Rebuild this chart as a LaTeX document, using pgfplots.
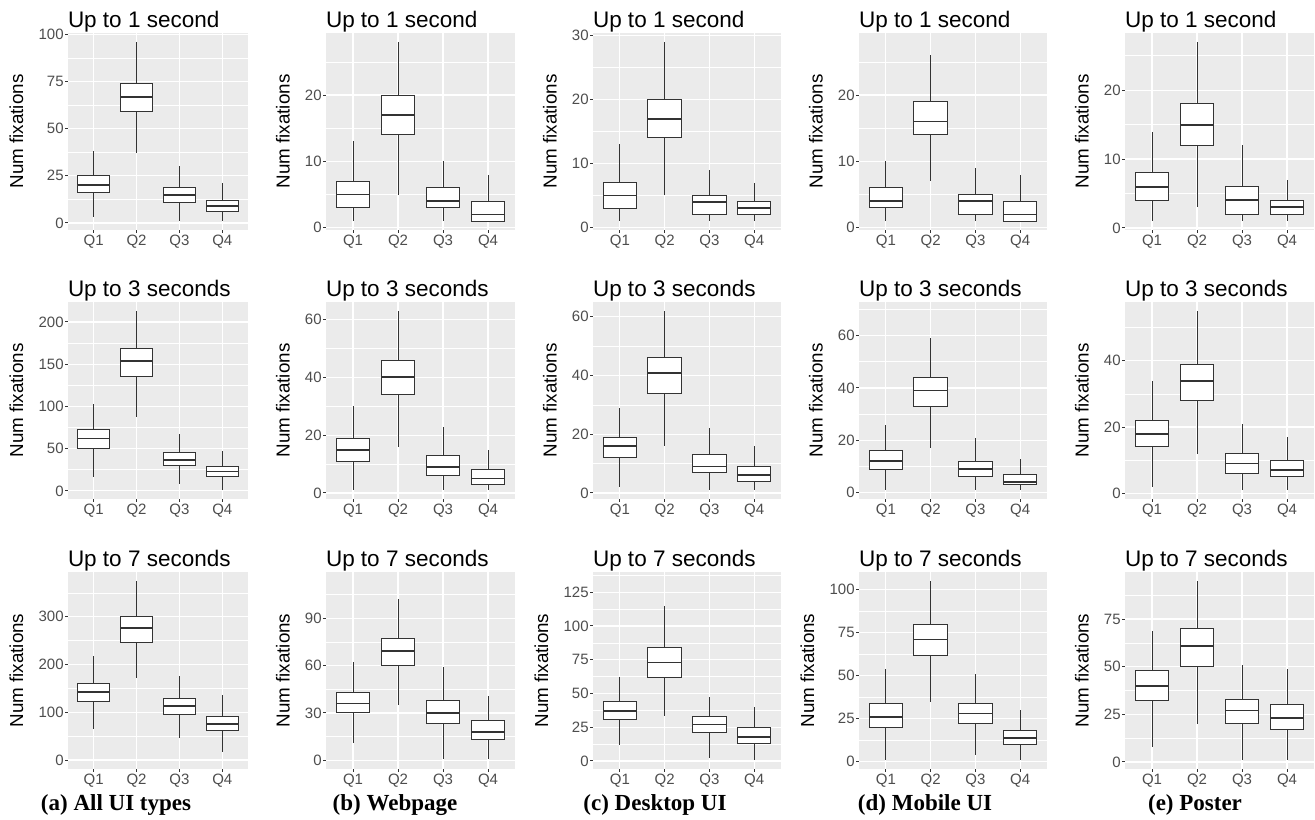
\documentclass[border=0pt]{standalone}
\usepackage{fontspec}
\setmainfont{Liberation Sans}
\newfontfamily\capfont{Liberation Serif}
\usepackage{pgfplots}
\pgfplotsset{compat=1.18}
\usepgfplotslibrary{statistics}
\definecolor{ggbg}{HTML}{EBEBEB}
\definecolor{gg30}{HTML}{4D4D4D}
\definecolor{gg20}{HTML}{333333}
\pgfplotsset{
  gg/.style={
    anchor=north west, scale only axis, height=98.5pt,
    xmin=0.4, xmax=4.6, xtick={1,2,3,4}, xticklabels={Q1,Q2,Q3,Q4},
    enlargelimits=false,
    axis lines*=left, axis line style={draw=none},
    axis background/.style={fill=ggbg},
    grid=both,
    major grid style={white, line width=0.6pt},
    minor grid style={white, line width=0.3pt},
    tick align=outside, major tick length=1.4pt, minor tick length=0pt,
    major tick style={gg20, line width=0.5pt},
    /pgf/number format/assume math mode=true,
    xticklabel style={font=\fontsize{7.5}{9}\selectfont, text=gg30, inner sep=1pt},
    yticklabel style={font=\fontsize{7.5}{9}\selectfont, text=gg30, inner xsep=0.6pt},
    ylabel={Num fixations},
    ylabel style={font=\fontsize{9.4}{11}\selectfont, inner sep=0pt, outer sep=0pt, at={(ticklabel cs:0.5,7pt)}, anchor=south},
    every axis title/.style={font=\fontsize{11.25}{13}\selectfont, inner sep=0pt, outer sep=0pt, at={(0,1)}, anchor=base west, yshift=2.9pt},
    boxplot/draw direction=y,
    boxplot/box extend=0.75,
    boxplot/whisker extend=0,
    boxplot/every median/.style={line width=0.9pt},
  },
  bx/.style={draw=gg20, fill=white, line width=0.5pt, solid, mark=none},
}
\newcommand{\bp}[6]{\addplot[bx, boxplot prepared={draw position=#1, lower whisker=#2, lower quartile=#3, median=#4, upper quartile=#5, upper whisker=#6}] coordinates {};}
\begin{document}
\begin{tikzpicture}
\useasboundingbox (0,0) rectangle (657.5pt,-409.5pt);
% ---------- Row 1: Up to 1 second ----------
\begin{axis}[gg, at={(34pt,-16.5pt)}, width=90pt, ymin=-3.75, ymax=100.75,
  ytick={0,25,50,75,100}, minor ytick={12.5,37.5,62.5,87.5}, title={Up to 1 second}]
\bp{1}{3}{16}{20}{25}{38}
\bp{2}{37}{59}{67}{74}{96}
\bp{3}{1}{11}{15}{19}{30}
\bp{4}{1}{6}{9}{12}{21}
\end{axis}
\begin{axis}[gg, at={(163pt,-16.5pt)}, width=94.5pt, ymin=-0.35, ymax=29.35,
  ytick={0,10,20}, minor ytick={5,15,25}, title={Up to 1 second}]
\bp{1}{1}{3}{5}{7}{13}
\bp{2}{5}{14}{17}{20}{28}
\bp{3}{1}{3}{4}{6}{10}
\bp{4}{1}{1}{2}{4}{8}
\end{axis}
\begin{axis}[gg, at={(296.5pt,-16.5pt)}, width=94pt, ymin=-0.4, ymax=30.4,
  ytick={0,10,20,30}, minor ytick={5,15,25}, title={Up to 1 second}]
\bp{1}{1}{3}{5}{7}{13}
\bp{2}{5}{14}{17}{20}{29}
\bp{3}{1}{2}{4}{5}{9}
\bp{4}{1}{2}{3}{4}{7}
\end{axis}
\begin{axis}[gg, at={(429.5pt,-16.5pt)}, width=94pt, ymin=-0.35, ymax=29.35,
  ytick={0,10,20}, minor ytick={5,15,25}, title={Up to 1 second}]
\bp{1}{1}{3}{4}{6}{10}
\bp{2}{7}{14}{16}{19}{26}
\bp{3}{1}{2}{4}{5}{9}
\bp{4}{1}{1}{2}{4}{8}
\end{axis}
\begin{axis}[gg, at={(562.5pt,-16.5pt)}, width=94.5pt, ymin=-0.3, ymax=28.3,
  ytick={0,10,20}, minor ytick={5,15,25}, title={Up to 1 second}]
\bp{1}{1}{4}{6}{8}{14}
\bp{2}{3}{12}{15}{18}{27}
\bp{3}{1}{2}{4}{6}{12}
\bp{4}{1}{2}{3}{4}{7}
\end{axis}
% ---------- Row 2: Up to 3 seconds ----------
\begin{axis}[gg, at={(34pt,-151pt)}, width=90pt, ymin=-9.6, ymax=223.6,
  ytick={0,50,100,150,200}, minor ytick={25,75,125,175}, title={Up to 3 seconds}]
\bp{1}{16}{50}{62}{73}{103}
\bp{2}{88}{136}{154}{169}{213}
\bp{3}{8}{30}{37}{45}{67}
\bp{4}{1}{17}{23}{29}{47}
\end{axis}
\begin{axis}[gg, at={(163pt,-151pt)}, width=94.5pt, ymin=-2.1, ymax=66.1,
  ytick={0,20,40,60}, minor ytick={10,30,50}, title={Up to 3 seconds}]
\bp{1}{1}{11}{15}{19}{30}
\bp{2}{16}{34}{40}{46}{63}
\bp{3}{1}{6}{9}{13}{23}
\bp{4}{1}{3}{5}{8}{15}
\end{axis}
\begin{axis}[gg, at={(296.5pt,-151pt)}, width=94pt, ymin=-2.05, ymax=65.05,
  ytick={0,20,40,60}, minor ytick={10,30,50}, title={Up to 3 seconds}]
\bp{1}{2}{12}{16}{19}{29}
\bp{2}{16}{34}{41}{46}{62}
\bp{3}{1}{7}{9}{13}{22}
\bp{4}{1}{4}{6}{9}{16}
\end{axis}
\begin{axis}[gg, at={(429.5pt,-151pt)}, width=94pt, ymin=-2.4, ymax=72.8,
  ytick={0,20,40,60}, minor ytick={10,30,50,70}, title={Up to 3 seconds}]
\bp{1}{1}{9}{12}{16}{26}
\bp{2}{17}{33}{39}{44}{59}
\bp{3}{1}{6}{9}{12}{21}
\bp{4}{1}{3}{4}{7}{13}
\end{axis}
\begin{axis}[gg, at={(562.5pt,-151pt)}, width=94.5pt, ymin=-1.7, ymax=57.7,
  ytick={0,20,40}, minor ytick={10,30,50}, title={Up to 3 seconds}]
\bp{1}{2}{14}{18}{22}{34}
\bp{2}{12}{28}{34}{39}{55}
\bp{3}{1}{6}{9}{12}{21}
\bp{4}{1}{5}{7}{10}{17}
\end{axis}
% ---------- Row 3: Up to 7 seconds ----------
\begin{axis}[gg, at={(34pt,-286pt)}, width=90pt, ymin=-18.75, ymax=393.75,
  ytick={0,100,200,300}, minor ytick={50,150,250,350}, title={Up to 7 seconds}]
\bp{1}{65}{122}{142}{161}{218}
\bp{2}{171}{247}{276}{301}{375}
\bp{3}{46}{96}{113}{129}{176}
\bp{4}{16}{61}{75}{92}{137}
\end{axis}
\begin{axis}[gg, at={(163pt,-286pt)}, width=94.5pt, ymin=-5.5, ymax=119.2,
  ytick={0,30,60,90}, minor ytick={15,45,75,105}, title={Up to 7 seconds}]
\bp{1}{11}{30}{36}{43}{62}
\bp{2}{35}{60}{69}{77}{102}
\bp{3}{1}{23}{30}{38}{59}
\bp{4}{1}{13}{18}{25}{41}
\end{axis}
\begin{axis}[gg, at={(296.5pt,-286pt)}, width=94pt, ymin=-6, ymax=140,
  ytick={0,25,50,75,100,125}, minor ytick={12.5,37.5,62.5,87.5,112.5,137.5}, title={Up to 7 seconds}]
\bp{1}{12}{31}{37}{44}{62}
\bp{2}{33}{62}{73}{84}{115}
\bp{3}{2}{21}{27}{33}{47}
\bp{4}{1}{13}{18}{25}{40}
\end{axis}
\begin{axis}[gg, at={(429.5pt,-286pt)}, width=94pt, ymin=-4.2, ymax=110.2,
  ytick={0,25,50,75,100}, minor ytick={12.5,37.5,62.5,87.5}, title={Up to 7 seconds}]
\bp{1}{1}{20}{26}{34}{54}
\bp{2}{35}{62}{71}{80}{105}
\bp{3}{4}{22}{28}{34}{51}
\bp{4}{1}{10}{14}{18}{30}
\end{axis}
\begin{axis}[gg, at={(562.5pt,-286pt)}, width=94.5pt, ymin=-3.7, ymax=99.7,
  ytick={0,25,50,75}, minor ytick={12.5,37.5,62.5,87.5}, title={Up to 7 seconds}]
\bp{1}{8}{32}{40}{48}{69}
\bp{2}{20}{50}{61}{70}{95}
\bp{3}{1}{20}{27}{33}{51}
\bp{4}{1}{17}{23}{30}{49}
\end{axis}
% ---------- captions ----------
\begin{scope}[every node/.style={anchor=base, inner sep=0pt, font=\capfont\bfseries\fontsize{11.5}{13}\selectfont}]
\node at (58pt,-405pt) {(a) All UI types};
\node at (197.5pt,-405pt) {(b) Webpage};
\node at (327.5pt,-405pt) {(c) Desktop UI};
\node at (462.5pt,-405pt) {(d) Mobile UI};
\node at (597.5pt,-405pt) {(e) Poster};
\end{scope}
\end{tikzpicture}
\end{document}
